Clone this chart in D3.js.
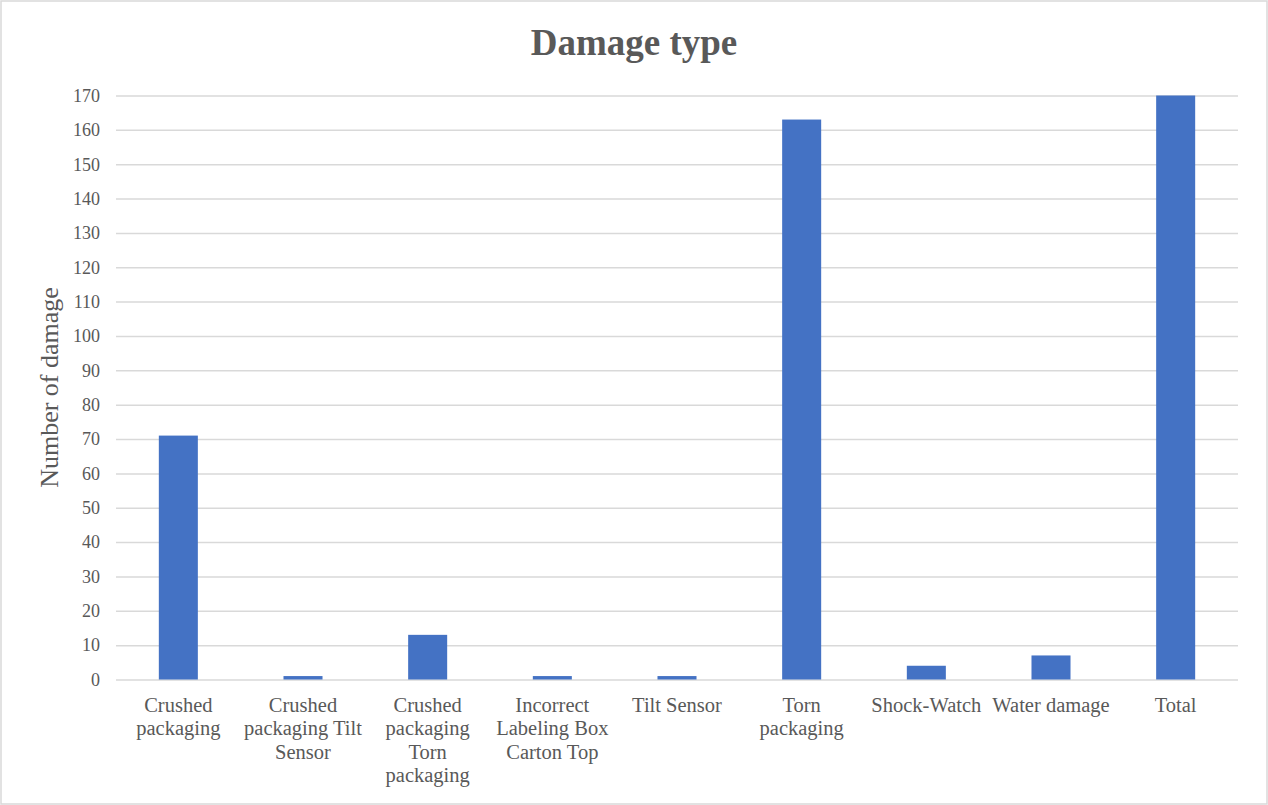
<!DOCTYPE html>
<html lang="en">
<head>
    <meta charset="UTF-8">
    <title>Damage type</title>
    <script src="https://cdn.jsdelivr.net/npm/d3@7"></script>
    <style type="text/css">
        body { margin: 0; background: #fff; }
        text { font-family: "Liberation Serif", "Times New Roman", serif; fill: #595959; }
        .grid line { stroke: #d9d9d9; stroke-width: 1.5; }
        .grid path { display: none; }
        .bar { fill: #4472c4; }
    </style>
</head>
<body>
<div id="vis"></div>
<script type="text/javascript">
    let categories = ["Crushed packaging", "Crushed packaging Tilt Sensor", "Crushed packaging Torn packaging",
        "Incorrect Labeling Box Carton Top", "Tilt Sensor", "Torn packaging", "Shock-Watch", "Water damage", "Total"];
    let damageCounts = [71, 1, 13, 1, 1, 163, 4, 7, 170];
    let tickLabels = [
        ["Crushed", "packaging"],
        ["Crushed", "packaging Tilt", "Sensor"],
        ["Crushed", "packaging", "Torn", "packaging"],
        ["Incorrect", "Labeling Box", "Carton Top"],
        ["Tilt Sensor"],
        ["Torn", "packaging"],
        ["Shock-Watch"],
        ["Water damage"],
        ["Total"]
    ];
    let yTicks = d3.range(0, 171, 10);

    let width = 1268, height = 805;
    let margin = {top: 95.5, right: 30, bottom: 125.5, left: 116};
    let innerW = width - margin.left - margin.right;
    let innerH = height - margin.top - margin.bottom;

    let svg = d3.select("#vis").append("svg")
        .attr("width", width)
        .attr("height", height);

    // chart border
    svg.append("rect")
        .attr("x", 1).attr("y", 1)
        .attr("width", width - 2).attr("height", height - 2)
        .attr("fill", "#fff")
        .attr("stroke", "#d9d9d9").attr("stroke-width", 1.5);

    svg.append("text")
        .attr("x", width / 2).attr("y", 55)
        .attr("text-anchor", "middle")
        .style("font-size", "37px").style("font-weight", "bold")
        .text("Damage type");

    let g = svg.append("g")
        .attr("transform", "translate(" + margin.left + "," + margin.top + ")");

    let xScale = d3.scaleBand()
        .domain(categories)
        .range([0, innerW])
        .paddingInner(0.687).paddingOuter(0.3435);

    let yScale = d3.scaleLinear()
        .domain([0, 170])
        .range([innerH, 0]);

    // gridlines
    g.append("g")
        .attr("class", "grid")
        .call(d3.axisLeft(yScale).tickValues(yTicks).tickSize(-innerW).tickFormat(""));

    // y tick labels
    g.selectAll(".ylab")
        .data(yTicks)
        .enter().append("text")
        .attr("class", "ylab")
        .attr("x", -16)
        .attr("y", d => yScale(d))
        .attr("dy", "0.35em")
        .attr("text-anchor", "end")
        .style("font-size", "18px")
        .text(d => d);

    g.selectAll(".bar")
        .data(damageCounts)
        .enter().append("rect")
        .attr("class", "bar")
        .attr("x", (d, i) => xScale(categories[i]))
        .attr("width", xScale.bandwidth())
        .attr("y", d => yScale(d))
        .attr("height", d => innerH - yScale(d));

    // x labels
    g.selectAll(".xlab")
        .data(categories)
        .enter().append("text")
        .attr("class", "xlab")
        .attr("x", d => xScale(d) + xScale.bandwidth() / 2)
        .attr("y", innerH + 32)
        .attr("text-anchor", "middle")
        .style("font-size", "20.5px")
        .each(function (d, i) {
            let t = d3.select(this);
            tickLabels[i].forEach(function (line, j) {
                t.append("tspan")
                    .attr("x", xScale(d) + xScale.bandwidth() / 2)
                    .attr("dy", j === 0 ? 0 : 23.6)
                    .text(line);
            });
        });

    svg.append("text")
        .attr("transform", "translate(58," + (margin.top + innerH / 2) + ") rotate(-90)")
        .attr("text-anchor", "middle")
        .style("font-size", "26px")
        .text("Number of damage");
</script>
</body>
</html>
